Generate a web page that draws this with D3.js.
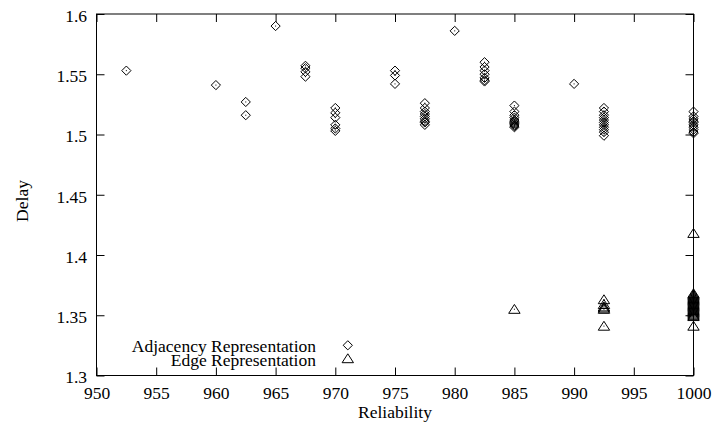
<!DOCTYPE html>
<html>
<head>
<meta charset="utf-8">
<script src="https://cdn.jsdelivr.net/npm/d3@7/dist/d3.min.js"></script>
<style>
  body { margin: 0; background: #fff; }
  text { font-family: "Liberation Serif", "Times New Roman", serif; fill: #000; }
</style>
</head>
<body>
<div id="chart"></div>
<script>
// Data
const xTicks = [950, 955, 960, 965, 970, 975, 980, 985, 990, 995, 1000]
const yTicks = [1.3, 1.35, 1.4, 1.45, 1.5, 1.55, 1.6]

// Adjacency Representation (diamonds)
const adjRel = [
  952.5, 960, 962.5, 962.5, 965,
  967.5, 967.5, 967.5, 967.5,
  970, 970, 970, 970, 970, 970,
  975, 975, 975,
  977.5, 977.5, 977.5, 977.5, 977.5, 977.5, 977.5, 977.5, 977.5,
  980,
  982.5, 982.5, 982.5, 982.5, 982.5, 982.5, 982.5,
  985, 985, 985, 985, 985, 985, 985, 985, 985, 985, 985,
  990,
  992.5, 992.5, 992.5, 992.5, 992.5, 992.5, 992.5, 992.5, 992.5, 992.5, 992.5,
  1000, 1000, 1000, 1000, 1000, 1000, 1000, 1000, 1000, 1000
]
const adjDelay = [
  1.553, 1.541, 1.527, 1.516, 1.590,
  1.557, 1.555, 1.552, 1.548,
  1.522, 1.518, 1.514, 1.508, 1.505, 1.503,
  1.553, 1.549, 1.542,
  1.526, 1.522, 1.519, 1.517, 1.515, 1.513, 1.511, 1.510, 1.508,
  1.586,
  1.560, 1.556, 1.553, 1.550, 1.547, 1.545, 1.544,
  1.524, 1.519, 1.516, 1.514, 1.512, 1.511, 1.510, 1.509, 1.508, 1.507, 1.506,
  1.542,
  1.522, 1.519, 1.516, 1.514, 1.512, 1.510, 1.508, 1.506, 1.504, 1.502, 1.499,
  1.519, 1.515, 1.513, 1.511, 1.510, 1.508, 1.506, 1.504, 1.502, 1.501
]

// Edge Representation (triangles)
const edgeRel = [
  985,
  992.5, 992.5, 992.5, 992.5, 992.5, 992.5,
  1000, 1000, 1000, 1000, 1000, 1000, 1000, 1000, 1000, 1000, 1000,
  1000, 1000, 1000, 1000, 1000, 1000, 1000, 1000, 1000, 1000, 1000
]
const edgeDelay = [
  1.355,
  1.363, 1.359, 1.357, 1.356, 1.355, 1.341,
  1.418, 1.368, 1.367, 1.366, 1.365, 1.364, 1.363, 1.362, 1.361, 1.360, 1.359,
  1.358, 1.357, 1.356, 1.355, 1.354, 1.353, 1.352, 1.351, 1.350, 1.349, 1.341
]

const seriesNames = ['Adjacency Representation', 'Edge Representation']

// Dimensions
const width = 719
const height = 426
const plot = { left: 96.5, right: 693.5, top: 14, bottom: 375.5 }

const svg = d3.select('#chart')
  .append('svg')
  .attr('width', width)
  .attr('height', height)

const x = d3.scaleLinear().domain([950, 1000]).range([plot.left, plot.right])
const y = d3.scaleLinear().domain([1.3, 1.6]).range([plot.bottom, plot.top])

const fontSize = '17.5px'

// Axes (gnuplot style: inward ticks on every side)
const xAxis = svg.append('g')
  .attr('transform', `translate(0,${plot.bottom})`)
  .call(d3.axisBottom(x).tickValues(xTicks).tickSize(-8).tickSizeOuter(0)
    .tickPadding(11).tickFormat(d3.format('d')))
const yAxis = svg.append('g')
  .attr('transform', `translate(${plot.left},0)`)
  .call(d3.axisLeft(y).tickValues(yTicks).tickSize(-8).tickSizeOuter(0)
    .tickPadding(9.5).tickFormat(d3.format('.2~f')))
const topAxis = svg.append('g')
  .attr('transform', `translate(0,${plot.top})`)
  .call(d3.axisTop(x).tickValues(xTicks).tickSize(-8).tickSizeOuter(0).tickFormat(''))
const rightAxis = svg.append('g')
  .attr('transform', `translate(${plot.right},0)`)
  .call(d3.axisRight(y).tickValues(yTicks).tickSize(-8).tickSizeOuter(0).tickFormat(''))

;[xAxis, yAxis, topAxis, rightAxis].forEach(g => {
  g.select('.domain').remove()
  g.selectAll('line').attr('stroke', '#000')
  g.selectAll('text')
    .style('font-family', '"Liberation Serif", serif')
    .style('font-size', fontSize)
    .attr('fill', '#000')
})
yAxis.selectAll('text').attr('dy', '0.42em')

// frame
svg.append('rect')
  .attr('x', plot.left)
  .attr('y', plot.top)
  .attr('width', plot.right - plot.left)
  .attr('height', plot.bottom - plot.top)
  .attr('fill', 'none')
  .attr('stroke', '#000')
  .attr('stroke-width', 1)

// axis titles
svg.append('text')
  .attr('x', (plot.left + plot.right) / 2)
  .attr('y', 418)
  .attr('text-anchor', 'middle')
  .style('font-size', fontSize)
  .text('Reliability')

svg.append('text')
  .attr('transform', 'translate(27.5,201) rotate(-90)')
  .attr('text-anchor', 'middle')
  .style('font-size', fontSize)
  .text('Delay')

// markers
const diamond = 'M0,-4.6L4.6,0L0,4.6L-4.6,0Z'
const triangle = 'M0,-4.8L5.7,4.1L-5.7,4.1Z'

function drawSeries(rel, delay, shape) {
  const pts = rel.map((r, i) => ({ r: r, d: delay[i] }))
  const g = svg.append('g')
  const m = g.selectAll('g')
    .data(pts)
    .join('g')
    .attr('transform', p => `translate(${x(p.r)},${y(p.d)})`)
  m.append('path')
    .attr('d', shape)
    .attr('fill', 'none')
    .attr('stroke', '#000')
    .attr('stroke-width', 1)
  m.append('rect') // little centre dot
    .attr('x', -0.5).attr('y', -0.5)
    .attr('width', 1).attr('height', 1)
    .attr('fill', '#000')
}

drawSeries(adjRel, adjDelay, diamond)
drawSeries(edgeRel, edgeDelay, triangle)

// legend
const legend = svg.append('g')
const rows = [
  { name: seriesNames[0], shape: diamond, my: 345.3, ty: 351.5 },
  { name: seriesNames[1], shape: triangle, my: 358.6, ty: 366 }
]
rows.forEach(row => {
  legend.append('text')
    .attr('x', 316)
    .attr('y', row.ty)
    .attr('text-anchor', 'end')
    .style('font-size', fontSize)
    .text(row.name)
  legend.append('path')
    .attr('transform', `translate(347.8,${row.my})`)
    .attr('d', row.shape)
    .attr('fill', 'none')
    .attr('stroke', '#000')
})
</script>
</body>
</html>
